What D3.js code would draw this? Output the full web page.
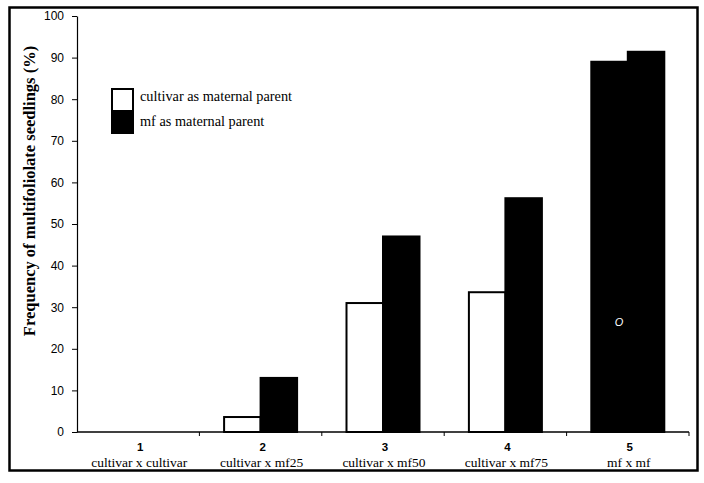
<!DOCTYPE html>
<html>
<head>
<meta charset="utf-8">
<title>Multifoliolate seedlings</title>
<script src="https://d3js.org/d3.v7.min.js"></script>
<style>
  body { margin: 0; background: #fff; }
</style>
</head>
<body>
<svg width="704" height="483"></svg>
<script>
// data
const crossNums = ["1", "2", "3", "4", "5"];
const crossNames = ["cultivar x cultivar", "cultivar x mf25", "cultivar x mf50", "cultivar x mf75", "mf x mf"];
const cultivarMaternal = [0, 3.6, 31.0, 33.6, 89.0];
const mfMaternal = [0, 13.0, 47.0, 56.2, 91.4];
const seriesNames = ["cultivar as maternal parent", "mf as maternal parent"];
const yTicks = [0, 10, 20, 30, 40, 50, 60, 70, 80, 90, 100];

const svg = d3.select("svg");
const margin = { top: 16, right: 15, bottom: 51, left: 77 };
const innerW = 689 - margin.left;
const innerH = 432 - margin.top;

// outer frame
svg.append("rect")
  .attr("x", 9.5).attr("y", 7.5)
  .attr("width", 688).attr("height", 463)
  .attr("fill", "none").attr("stroke", "#000").attr("stroke-width", 2.5);

const g = svg.append("g").attr("transform", `translate(${margin.left},${margin.top})`);

const x = d3.scaleBand().domain(crossNums).range([0, innerW]);
const xSub = d3.scaleBand().domain([0, 1]).range([0, 73]);
const y = d3.scaleLinear().domain([0, 100]).range([innerH, 0]);

// bars
const rows = crossNums.map((c, i) => ({ c, vals: [cultivarMaternal[i], mfMaternal[i]] }));
const groups = g.selectAll(".grp").data(rows).enter().append("g")
  .attr("transform", d => `translate(${x(d.c) + x.bandwidth() / 2 - 36.5},0)`);

groups.selectAll("rect")
  .data(d => d.vals.map((v, k) => ({ v, k, c: d.c })).filter(e => e.v > 0))
  .enter().append("rect")
  .attr("x", e => xSub(e.k))
  .attr("y", e => y(e.v))
  .attr("width", xSub.bandwidth())
  .attr("height", e => y(0) - y(e.v))
  .attr("fill", e => (e.k === 1 || e.c === "5") ? "#000" : "#fff")
  .attr("stroke", "#000")
  .attr("stroke-width", 2);

// stray mark inside last bar
svg.append("text")
  .attr("x", 619).attr("y", 326)
  .attr("text-anchor", "middle")
  .attr("font-family", "Liberation Sans, Arial, sans-serif")
  .attr("font-size", 11).attr("font-style", "italic")
  .attr("fill", "#fff").text("O");

// y axis
const yAxis = g.append("g")
  .call(d3.axisLeft(y).tickValues(yTicks).tickSize(5).tickPadding(8).tickSizeOuter(0));
yAxis.select(".domain").attr("stroke-width", 1.2);
yAxis.selectAll("text")
  .attr("font-family", "Liberation Sans, Arial, sans-serif")
  .attr("font-size", 12).attr("fill", "#000");

// x axis
const xAxis = g.append("g").attr("transform", `translate(0,${innerH})`);
xAxis.append("line").attr("x1", 0).attr("x2", innerW).attr("y1", 0).attr("y2", 0)
  .attr("stroke", "#000").attr("stroke-width", 1.5);
xAxis.selectAll(".tk").data(crossNums.slice(1).concat(["end"])).enter().append("line")
  .attr("x1", d => d === "end" ? innerW : x(d))
  .attr("x2", d => d === "end" ? innerW : x(d))
  .attr("y1", 0).attr("y2", 4)
  .attr("stroke", "#000");

xAxis.selectAll(".num").data(crossNums).enter().append("text")
  .attr("x", d => x(d) + x.bandwidth() / 2 + 2)
  .attr("y", 19)
  .attr("text-anchor", "middle")
  .attr("font-family", "Liberation Sans, Arial, sans-serif")
  .attr("font-size", 11.5).attr("font-weight", "bold")
  .text(d => d);

xAxis.selectAll(".name").data(crossNames).enter().append("text")
  .attr("x", (d, i) => x(crossNums[i]) + x.bandwidth() / 2 + 1)
  .attr("y", 35)
  .attr("text-anchor", "middle")
  .attr("font-family", "Liberation Serif, Times New Roman, serif")
  .attr("font-size", 13.5)
  .text(d => d);

// y label
svg.append("text")
  .attr("transform", "translate(35,191) rotate(-90)")
  .attr("text-anchor", "middle")
  .attr("font-family", "Liberation Serif, Times New Roman, serif")
  .attr("font-size", 16.5).attr("font-weight", "bold")
  .text("Frequency of multifoliolate seedlings (%)");

// legend
const legend = svg.append("g").attr("transform", "translate(112,89)");
seriesNames.forEach((s, i) => {
  legend.append("rect")
    .attr("x", 0).attr("y", i * 22)
    .attr("width", 21).attr("height", 22)
    .attr("fill", i === 0 ? "#fff" : "#000")
    .attr("stroke", "#000").attr("stroke-width", 2);
  legend.append("text")
    .attr("x", 28).attr("y", i * 25 + 12)
    .attr("font-family", "Liberation Serif, Times New Roman, serif")
    .attr("font-size", 14.3)
    .text(s);
});
</script>
</body>
</html>
